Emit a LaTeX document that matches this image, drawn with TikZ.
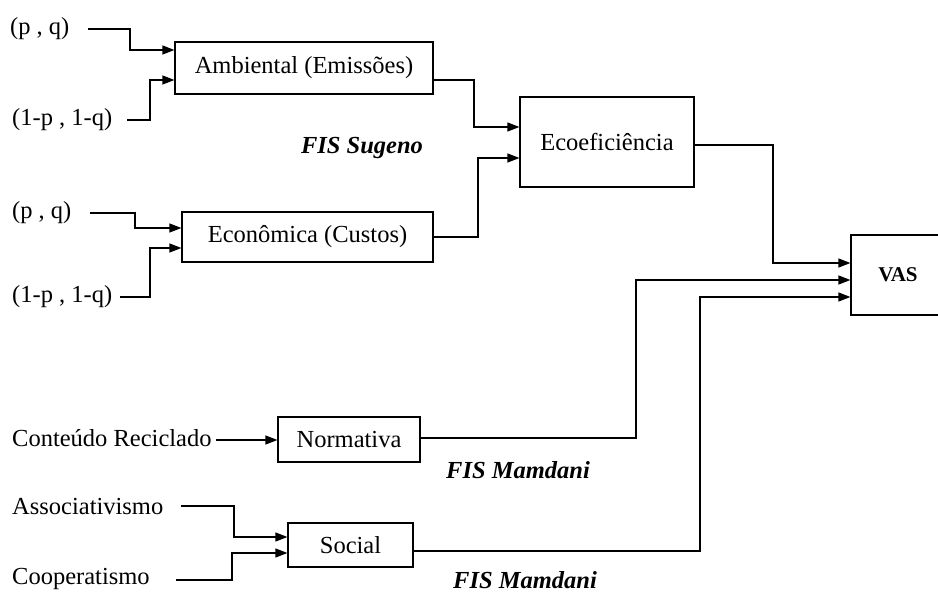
\documentclass[tikz,border=0pt]{standalone}
\usepackage{fontspec}
\setmainfont{Liberation Serif}
\usetikzlibrary{arrows.meta,calc}
\begin{document}
\begin{tikzpicture}[x=1pt,y=-1pt,
  every node/.style={font=\fontsize{24.5}{28}\selectfont},
  lbl/.style={inner sep=0pt,anchor=west},
  blk/.style={draw,line width=1.2pt,inner sep=0pt},
  conn/.style={line width=1.2pt},
  arr/.style={conn,-{Triangle[length=12pt,width=9pt]}},
  fis/.style={font=\fontsize{24.5}{28}\selectfont\bfseries\itshape,inner sep=0pt}]
\clip (0,0) rectangle (938,596);
\fill[white] (0,0) rectangle (938,596);
% boxes
\node[blk,minimum width=258pt,minimum height=52pt] (amb) at (304,68) {Ambiental (Emissões)};
\node[blk,minimum width=251pt,minimum height=50pt] (econ) at (307.5,237) {Econômica (Custos)};
\node[blk,minimum width=174pt,minimum height=90pt] (eco) at (607,142) {Ecoeficiência};
\node[blk,minimum width=94pt,minimum height=80pt,font=\fontsize{21}{24}\selectfont\bfseries] (vas) at (898,275) {VAS};
\node[blk,minimum width=142pt,minimum height=45pt] (norm) at (349,439.5) {Normativa};
\node[blk,minimum width=125pt,minimum height=44pt] (soc) at (350.5,545) {Social};
% input labels
\node[lbl] (pq1) at (10,29) {(p , q)};
\node[lbl] (npq1) at (12,120) {(1-p , 1-q)};
\node[lbl] (pq2) at (12,213) {(p , q)};
\node[lbl] (npq2) at (12,297) {(1-p , 1-q)};
\node[lbl] (cr) at (12,438) {Conteúdo Reciclado};
\node[lbl] (as) at (12,507) {Associativismo};
\node[lbl] (co) at (12,579) {Cooperatismo};
% FIS labels
\node[fis] (fs) at (362,148) {FIS Sugeno};
\node[fis] (fm1) at (518,470) {FIS Mamdani};
\node[fis] (fm2) at (525,580) {FIS Mamdani};
% connectors
\coordinate (s1) at (88,29);
\coordinate (s2) at (127,120);
\coordinate (s3) at (90,213);
\coordinate (s4) at (120,297);
\draw[arr] (s1) -- (130,29) |- ([yshift=18pt]amb.west);
\draw[arr] (s2) -- (150,120) |- ([yshift=-12pt]amb.west);
\draw[arr] (s3) -- (135,213) |- ([yshift=9pt]econ.west);
\draw[arr] (s4) -- (150,297) |- ([yshift=-11pt]econ.west);
\draw[arr] ([yshift=-12pt]amb.east) -- (474,80) |- ([yshift=15pt]eco.west);
\draw[arr] (econ.east) -- (478,237) |- ([yshift=-16pt]eco.west);
\draw[arr] ([yshift=-3pt]eco.east) -- (773,145) |- ([yshift=12pt]vas.west);
\draw[arr] ([yshift=1.5pt]norm.east) -- (636,438) |- ([yshift=-5pt]vas.west);
\draw[arr] ([yshift=-6pt]soc.east) -- (700,551) |- ([yshift=-22pt]vas.west);
\draw[arr] ([xshift=4pt,yshift=-2pt]cr.east) -- ([yshift=-0.5pt]norm.west);
\coordinate (s5) at (181,506);
\coordinate (s6) at (176,580);
\draw[arr] (s5) -- (234,506) |- ([yshift=8pt]soc.west);
\draw[arr] (s6) -- (232,580) |- ([yshift=-8pt]soc.west);
\end{tikzpicture}
\end{document}
